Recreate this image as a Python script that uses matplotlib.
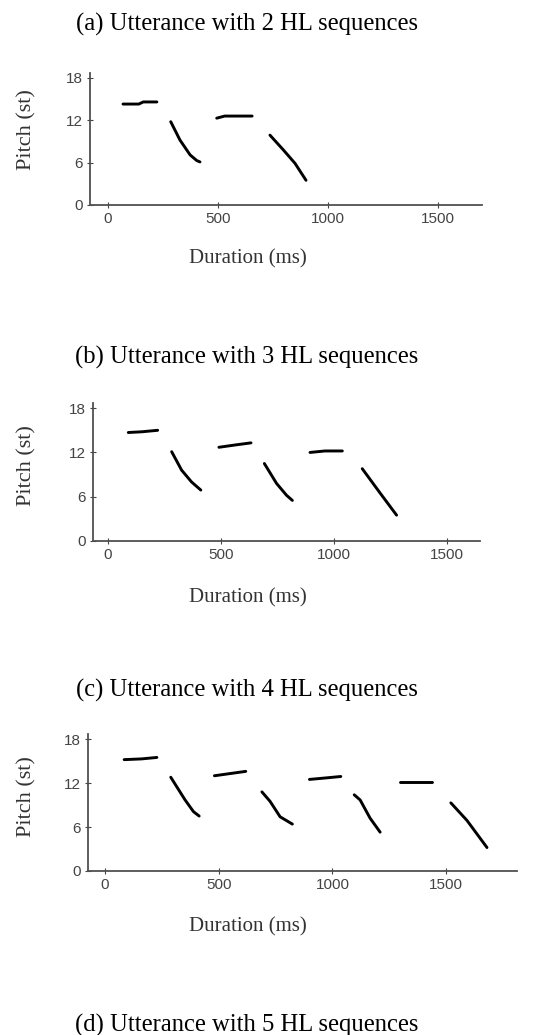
import matplotlib.pyplot as plt
import numpy as np

W, H = 557, 1035

# panel titles
titles = ["(a) Utterance with 2 HL sequences",
          "(b) Utterance with 3 HL sequences",
          "(c) Utterance with 4 HL sequences",
          "(d) Utterance with 5 HL sequences"]

x_ticks = [0, 500, 1000, 1500]
y_ticks = [0, 6, 12, 18]

# pitch contours (ms, semitones), one list of segments per panel
a_ms = [[68, 140, 160, 222], [285, 327, 373, 403, 418],
        [494, 530, 655], [736, 797, 850, 900]]
a_st = [[14.3, 14.3, 14.6, 14.6], [11.8, 9.2, 7.1, 6.3, 6.1],
        [12.3, 12.6, 12.6], [9.9, 7.8, 5.9, 3.5]]

b_ms = [[90, 150, 220], [282, 326, 370, 411],
        [491, 560, 633], [692, 746, 790, 816],
        [894, 960, 1037], [1125, 1204, 1277]]
b_st = [[14.7, 14.8, 15.0], [12.1, 9.6, 8.0, 6.9],
        [12.7, 13.0, 13.3], [10.5, 7.8, 6.2, 5.5],
        [12.0, 12.2, 12.2], [9.8, 6.5, 3.5]]

c_ms = [[84, 160, 228], [289, 352, 389, 414],
        [481, 550, 619], [690, 726, 770, 824],
        [899, 970, 1037], [1096, 1122, 1166, 1210],
        [1298, 1440], [1521, 1592, 1680]]
c_st = [[15.2, 15.3, 15.5], [12.8, 9.7, 8.1, 7.5],
        [13.0, 13.3, 13.6], [10.8, 9.5, 7.4, 6.4],
        [12.5, 12.7, 12.9], [10.4, 9.7, 7.2, 5.3],
        [12.1, 12.1], [9.3, 6.9, 3.2]]

fig = plt.figure(figsize=(W / 100, H / 100), dpi=100)

def px_axes(left, right, top, bottom):
    return fig.add_axes([left / W, 1 - bottom / H, (right - left) / W, (bottom - top) / H])

# axes box in pixels, xlim, title y, xlabel y, ylabel y
panels = [
    (px_axes(90, 482, 73, 205), (-82, 1700), a_ms, a_st, 24, 259, 130),
    (px_axes(93, 480, 403, 541), (-66, 1646), b_ms, b_st, 357, 598, 466),
    (px_axes(88, 517, 734, 871), (-75, 1812), c_ms, c_st, 690, 927, 797),
]

grey = "#505050"
for i, (ax, xl, ms, st, ty, xly, yly) in enumerate(panels):
    for xs, ys in zip(ms, st):
        ax.plot(xs, ys, color="black", lw=2.1, solid_capstyle="round",
                solid_joinstyle="round")
    ax.set_xlim(*xl)
    ax.set_ylim(0, 18.7)
    ax.set_xticks(x_ticks)
    ax.set_yticks(y_ticks)
    for s in ["top", "right"]:
        ax.spines[s].set_visible(False)
    for s in ["left", "bottom"]:
        ax.spines[s].set_color(grey)
        ax.spines[s].set_linewidth(1.3)
    ax.tick_params(direction="inout", length=4, width=0.8, colors="#444444",
                   labelsize=11, pad=3)
    for lab in ax.get_xticklabels() + ax.get_yticklabels():
        lab.set_fontfamily("Liberation Sans")
    ax.patch.set_alpha(0)
    fig.text(247 / W, 1 - ty / H, titles[i], ha="center", va="center",
             family="Liberation Serif", fontsize=17.7)
    fig.text(248 / W, 1 - xly / H, "Duration (ms)", ha="center", va="center",
             family="Liberation Serif", fontsize=15, color="#333333")
    fig.text(27 / W, 1 - yly / H, "Pitch (st)", ha="center", va="center",
             rotation=90, family="Liberation Serif", fontsize=16, color="#333333")

fig.text(247 / W, 1 - 1025 / H, titles[3], ha="center", va="center",
         family="Liberation Serif", fontsize=17.7)

fig.savefig("out.png", dpi=100)
